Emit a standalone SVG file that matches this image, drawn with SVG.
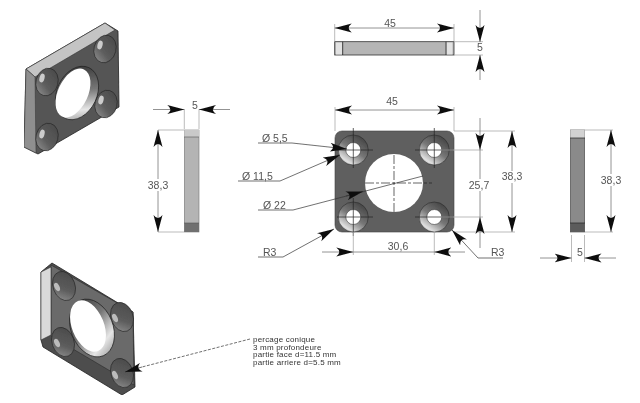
<svg xmlns="http://www.w3.org/2000/svg" width="640" height="403" viewBox="0 0 640 403">
<style>
text{font-family:"Liberation Sans",Arial,sans-serif;fill:#555}
.d{font-size:10.5px;text-anchor:middle}
.l{font-size:10.5px}
.n{font-size:8px;letter-spacing:.2px;fill:#333}
.dim{stroke:#777;stroke-width:.8;fill:none}
.arr{stroke:#777;stroke-width:.8;fill:none;marker-end:url(#a)}
.both{stroke:#777;stroke-width:.8;fill:none;marker-end:url(#a);marker-start:url(#a)}
.ext{stroke:#aaa;stroke-width:.8;fill:none}
.lead{stroke:#333;stroke-width:.7;fill:none}
.cm{stroke:#222;stroke-width:.7;fill:none}
.edge{stroke:#222;stroke-width:.8}
.w{fill:#fff}
.ih{fill:url(#iso);stroke:#222;stroke-width:.6}
</style>
<defs>
<marker id="a" markerUnits="userSpaceOnUse" markerWidth="18" markerHeight="10" refX="17" refY="5" orient="auto-start-reverse"><path d="M17 5L0 .5Q6 5 0 9.500Z" fill="#111"/></marker>
<linearGradient id="cb" x1=".85" y1="0" x2=".15" y2="1"><stop offset="0" stop-color="#3c3c3c"/><stop offset=".5" stop-color="#777"/><stop offset=".85" stop-color="#e0e0e0"/><stop offset="1" stop-color="#999"/></linearGradient>
<linearGradient id="iso" x1=".8" y1="0" x2=".2" y2="1"><stop offset="0" stop-color="#4a4a4a"/><stop offset=".6" stop-color="#5c5c5c"/><stop offset="1" stop-color="#8c8c8c"/></linearGradient>
<linearGradient id="wall" x1=".3" y1="0" x2=".7" y2="1"><stop offset="0" stop-color="#3a3a3a"/><stop offset=".45" stop-color="#777"/><stop offset=".8" stop-color="#e6e6e6"/><stop offset="1" stop-color="#aaa"/></linearGradient>
<filter id="soft" x="0" y="0" width="1" height="1"><feGaussianBlur stdDeviation=".3"/></filter>
</defs>
<rect width="640" height="403" fill="#fff"/>
<g filter="url(#soft)">

<g id="iso-top">
<path d="M26 69L105 23L118 31L119 107L38 154L24 147Z" fill="#555" stroke="#222" stroke-width=".8"/>
<path d="M26 69L105 23L115 30L35 77Z" fill="#c4c4c4" stroke="#333" stroke-width=".6"/>
<path d="M26 69L35 77L36 153L24 147Z" fill="#8f8f8f" stroke="#333" stroke-width=".5"/>
<ellipse class="ih" cx="47" cy="82" rx="11" ry="14" transform="rotate(15 47 82)"/>
<ellipse class="ih" cx="105" cy="49" rx="11" ry="14" transform="rotate(15 105 49)"/>
<ellipse class="ih" cx="106" cy="104" rx="11" ry="14" transform="rotate(15 106 104)"/>
<ellipse class="ih" cx="47" cy="137" rx="11" ry="14" transform="rotate(15 47 137)"/>
<ellipse cx="42" cy="78" rx="2.500" ry="4.500" transform="rotate(15 42 78)" fill="#ccc"/>
<ellipse cx="100" cy="45" rx="2.500" ry="4.500" transform="rotate(15 100 45)" fill="#ccc"/>
<ellipse cx="101" cy="100" rx="2.500" ry="4.500" transform="rotate(15 101 100)" fill="#ccc"/>
<ellipse cx="42" cy="134" rx="2.500" ry="4.500" transform="rotate(15 42 134)" fill="#ccc"/>
<ellipse cx="77" cy="93" rx="20" ry="28" transform="rotate(25 77 93)" fill="url(#wall)" stroke="#222" stroke-width=".7"/>
<ellipse class="w" cx="73" cy="93" rx="15" ry="26" transform="rotate(25 73 93)"/>
</g>

<g id="iso-bottom">
<path d="M41 272L52 263L133 312L135 387L122 395L43 347L41 340Z" fill="#4d4d4d" stroke="#222" stroke-width=".8"/>
<path d="M51 265L133 312L134 385L51 336Z" fill="#6a6a6a" stroke="#222" stroke-width=".5"/>
<path d="M41 272L51 267L51 335L41 340Z" fill="#d9d9d9" stroke="#333" stroke-width=".6"/>
<ellipse class="ih" cx="64" cy="286" rx="11" ry="15" transform="rotate(-20 64 286)"/>
<ellipse class="ih" cx="122" cy="317" rx="11" ry="15" transform="rotate(-20 122 317)"/>
<ellipse class="ih" cx="63" cy="342" rx="11" ry="15" transform="rotate(-20 63 342)"/>
<ellipse class="ih" cx="122" cy="373" rx="11" ry="15" transform="rotate(-20 122 373)"/>
<ellipse cx="57" cy="287" rx="2.500" ry="4.500" transform="rotate(-25 57 287)" fill="#bbb"/>
<ellipse cx="115" cy="318" rx="2.500" ry="4.500" transform="rotate(-25 115 318)" fill="#bbb"/>
<ellipse cx="57" cy="343" rx="2.500" ry="4.500" transform="rotate(-25 57 343)" fill="#bbb"/>
<ellipse cx="115" cy="375" rx="2.500" ry="4.500" transform="rotate(-25 115 375)" fill="#bbb"/>
<ellipse cx="92" cy="328" rx="21" ry="30" transform="rotate(-22 92 328)" fill="url(#wall)" stroke="#222" stroke-width=".7"/>
<ellipse class="w" cx="88" cy="326" rx="16" ry="27" transform="rotate(-22 88 326)"/>
</g>

<g id="view-top">
<rect x="334.700" y="41.700" width="119.300" height="13.300" fill="#b5b5b5" stroke="#333" stroke-width=".8"/>
<rect x="336" y="42.500" width="6" height="12" fill="#e2e2e2"/>
<rect x="446.500" y="42.500" width="6" height="12" fill="#e2e2e2"/>
<path class="edge" d="M342.700 41.700V55M446 41.700V55"/>
</g>

<g id="view-left">
<rect x="184.300" y="130" width="14.700" height="102" fill="#b4b4b4" stroke="#777" stroke-width=".6"/>
<rect x="184.300" y="130" width="14.700" height="7" fill="#c9c9c9"/>
<rect x="184.300" y="223" width="14.700" height="9" fill="#6f6f6f"/>
<path stroke="#555" stroke-width=".6" d="M184 137H199M184 223H199"/>
</g>

<g id="view-right">
<rect x="570.300" y="130" width="14.400" height="102" fill="#8a8a8a" stroke="#444" stroke-width=".6"/>
<rect x="570.300" y="130" width="14.400" height="8" fill="#d2d2d2"/>
<rect x="570.300" y="223" width="14.400" height="9" fill="#5c5c5c"/>
<path stroke="#222" stroke-width=".7" d="M570 138H585M570 223H585"/>
</g>

<g id="view-front">
<rect x="335" y="131" width="119" height="101" rx="7" fill="#5e5e5e" stroke="#444" stroke-width=".6"/>
<circle cx="353.300" cy="150" r="15" fill="url(#cb)" stroke="#222" stroke-width=".5"/>
<circle cx="434.300" cy="150" r="15" fill="url(#cb)" stroke="#222" stroke-width=".5"/>
<circle cx="353.300" cy="217" r="15" fill="url(#cb)" stroke="#222" stroke-width=".5"/>
<circle cx="434.300" cy="217" r="15" fill="url(#cb)" stroke="#222" stroke-width=".5"/>
<circle class="w" cx="353.300" cy="150" r="7.500" stroke="#222" stroke-width=".5"/>
<circle class="w" cx="434.300" cy="150" r="7.500" stroke="#222" stroke-width=".5"/>
<circle class="w" cx="353.300" cy="217" r="7.500" stroke="#222" stroke-width=".5"/>
<circle class="w" cx="434.300" cy="217" r="7.500" stroke="#222" stroke-width=".5"/>
<circle class="w" cx="394" cy="183" r="29"/>
<path class="cm" stroke-dasharray="9 2 3 2" d="M394 155V213M365 183H432"/>
<path class="cm" d="M337 150H373M353.300 128V168M415 150H453M434.300 128V168M337 217H373M353.300 198V236M415 217H453"/>
</g>

<g id="connectors">
<path class="ext" d="M335 131V107M454 131V107M454 131H515M454 232H515M440 150H483M440 217H483M353.300 232V255M434.300 232V255"/>
<path class="both" d="M335 110H454"/>
<path class="dim" d="M480 150V217"/>
<path class="arr" d="M480 118V150"/>
<path class="arr" d="M480 248V217"/>
<path class="both" d="M512 131V232"/>
<path class="dim" d="M353.300 252H434.300"/>
<path class="arr" d="M322 252H353.300"/>
<path class="arr" d="M465 252H434.300"/>

<path class="lead" style="marker-end:url(#a)" d="M258 143H292L347 149"/>
<path class="lead" style="marker-end:url(#a)" d="M238 181H280L340 155"/>
<path class="lead" d="M258 210H293L423 176"/>
<path class="lead" style="marker-end:url(#a)" d="M346 196L363 191.500"/>
<path class="lead" style="marker-end:url(#a)" d="M258 257H283L334 229"/>
<path class="lead" style="marker-end:url(#a)" d="M503 258H478L452 230"/>

<path class="ext" d="M334.700 41V24M454 41V24M454 41.700H483M454 55H483"/>
<path class="both" d="M334.700 28H454"/>
<path class="arr" d="M480 10V42"/>
<path class="arr" d="M480 80V55"/>

<path class="ext" d="M184.300 109V129M199 109V129M158 130H184M158 232H184"/>
<path class="arr" d="M153 109.500H184.300"/>
<path class="arr" d="M230 109.500H199"/>
<path class="both" d="M158 130V232"/>

<path class="ext" d="M585 130H613M585 232H613M571.500 235V262M584.500 235V262"/>
<path class="both" d="M611 130V232"/>
<path class="arr" d="M540 258H571.500"/>
<path class="arr" d="M616 258H584.500"/>

<path class="lead" stroke-dasharray="3 1.500" d="M250 339L142 367"/>
<path class="lead" style="marker-end:url(#a)" d="M142 367L125 372"/>
</g>

<g id="labels">
<text class="d" x="392" y="105">45</text>
<text class="d" x="390" y="27">45</text>
<text class="d" x="480" y="51">5</text>
<text class="d" x="195" y="109">5</text>
<rect x="146" y="179" width="24" height="12" fill="#fff"/><text class="d" x="158" y="189">38,3</text>
<rect x="469" y="179" width="22" height="12" fill="#fff"/><text class="d" x="479" y="189">25,7</text>
<rect x="501" y="171" width="22" height="12" fill="#fff"/><text class="d" x="512" y="180">38,3</text>
<rect x="600" y="174" width="22" height="12" fill="#fff"/><text class="d" x="611" y="184">38,3</text>
<text class="d" x="398" y="250">30,6</text>
<text class="d" x="580" y="256">5</text>
<text class="l" x="262" y="142">Ø 5,5</text>
<text class="l" x="242" y="180">Ø 11,5</text>
<text class="l" x="263" y="209">Ø 22</text>
<text class="l" x="263" y="256">R3</text>
<text class="l" x="491" y="256">R3</text>
<text class="n" x="253" y="342">percage conique</text>
<text class="n" x="253" y="349.500">3 mm profondeure</text>
<text class="n" x="253" y="357">partie face d=11.5 mm</text>
<text class="n" x="253" y="364.500">partie arriere d=5.5 mm</text>
</g>
</g>
</svg>
